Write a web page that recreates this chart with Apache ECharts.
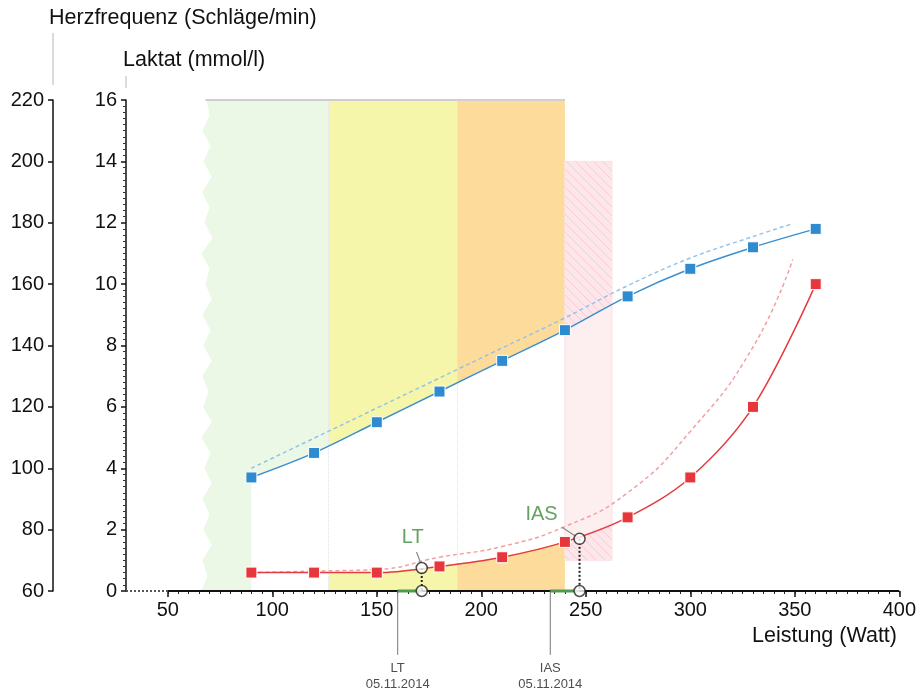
<!DOCTYPE html>
<html>
<head>
<meta charset="utf-8">
<script src="https://cdn.jsdelivr.net/npm/echarts@6/dist/echarts.min.js"></script>
<style>
  html, body { margin: 0; padding: 0; background: #fff; }
  #chart { width: 919px; height: 693px; }
</style>
</head>
<body>
<div id="chart"></div>
<script>
  // Messwerte (Stufentest)
  var watts = [90, 120, 150, 180, 210, 240, 270, 300, 330, 360];
  var heartRate = [97, 105, 115, 125, 135, 145, 156, 165, 172, 178];
  var lactate = [0.6, 0.6, 0.6, 0.8, 1.1, 1.6, 2.4, 3.7, 6.0, 10.0];

  // Vergleichskurven (gestrichelt)
  var prevHrWatts = [90, 120, 150, 180, 210, 240, 270, 300, 330, 348];
  var prevHeartRate = [100, 109.8, 119.6, 129.4, 139.2, 149, 159.5, 168.5, 175.5, 179.5];
  var prevLacWatts = [90, 120, 150, 180, 210, 240, 270, 300, 330, 349];
  var prevLactate = [0.6, 0.65, 0.7, 1.1, 1.45, 2.1, 3.2, 5.2, 7.95, 10.8];

  // Schwellen
  var thresholdNames = ['LT', 'IAS'];
  var thresholdWatts = [171.5, 247];
  var thresholdLactate = [0.75, 1.7];
  var prevThresholdWatts = [160, 233];
  var prevThresholdDates = ['05.11.2014', '05.11.2014'];

  // Trainingsbereiche (Watt)
  var zoneEdges = [68, 127, 188.5, 240];
  var iasZone = [240, 262.5, 1, 14];   // von, bis, Laktat unten, oben
  var greenEdge = [68.5, 70, 66.5, 70.5, 67, 71, 66.5, 70, 67.5, 71.5, 66, 70, 68, 71, 66.5, 70.5,
                   67, 71, 66.5, 69.5, 67, 71, 66, 70.5, 67.5, 71, 66.5, 70, 67, 71, 66.5, 69, 66];

  var xTickLabels = [50, 100, 150, 200, 250, 300, 350, 400];

  var zoneColors = ['#ecf8e6', '#f6f6aa', '#fddc9b'];
  var FONT = '"Liberation Sans", Arial, sans-serif';

  var hrMin = 60, hrMax = 220, lacMin = 0, lacMax = 16;
  function hrToLac(hr) { return lacMin + (hr - hrMin) * (lacMax - lacMin) / (hrMax - hrMin); }
  function pairs(xs, ys) { return xs.map(function (x, i) { return [x, ys[i]]; }); }
  var hrAsLac = heartRate.map(hrToLac);

  // Kurvenverlauf zwischen zwei Wattwerten (für die Bereichsränder)
  function valueAt(xs, ys, x) {
    for (var i = 0; i < xs.length - 1; i++) {
      if (x <= xs[i + 1]) return ys[i] + (x - xs[i]) / (xs[i + 1] - xs[i]) * (ys[i + 1] - ys[i]);
    }
    return ys[ys.length - 1];
  }
  function curve(xs, ys, x0, x1) {
    var out = [[x0, valueAt(xs, ys, x0)]];
    xs.forEach(function (x, i) { if (x > x0 && x < x1) out.push([x, ys[i]]); });
    out.push([x1, valueAt(xs, ys, x1)]);
    return out;
  }

  var minorXTicks = [];
  for (var t = 50; t <= 400; t += 5) minorXTicks.push(t);

  // Schraffur für IAS-Bereich
  var hatch = document.createElement('canvas');
  hatch.width = 9; hatch.height = 9;
  var hctx = hatch.getContext('2d');
  hctx.fillStyle = '#fde6e9';
  hctx.fillRect(0, 0, 9, 9);
  hctx.strokeStyle = '#f8cbd0';
  hctx.lineWidth = 1;
  [-9, 0, 9].forEach(function (o) {
    hctx.beginPath(); hctx.moveTo(o, 0); hctx.lineTo(o + 9, 9); hctx.stroke();
  });

  var chart = echarts.init(document.getElementById('chart'));

  var series = [];

  // Bereiche: oberhalb der Herzfrequenzkurve und unterhalb der Laktatkurve
  series.push({
    type: 'custom', silent: true, z: 1,
    data: [[watts[0], lactate[0]]],
    renderItem: function (params, api) {
      function poly(list, style) {
        return { type: 'polygon', shape: { points: list.map(function (p) { return api.coord(p); }) }, style: style };
      }
      function above(x0, x1, top) {
        return [[x0, top], [x1, top]].concat(curve(watts, hrAsLac, x0, x1).reverse());
      }
      function below(x0, x1, bottom) {
        return curve(watts, lactate, x0, x1).concat([[x1, bottom], [x0, bottom]]);
      }
      var children = [];

      // grün, mit gezacktem linken Rand
      var g = [[zoneEdges[1], lacMax]].concat(curve(watts, hrAsLac, watts[0], zoneEdges[1]).reverse());
      g.push([watts[0], lacMin]);
      for (var k = greenEdge.length - 1; k >= 0; k--) {
        g.push([greenEdge[k], lacMax - k * (lacMax - lacMin) / (greenEdge.length - 1)]);
      }
      children.push(poly(g, { fill: zoneColors[0] }));

      // gelb, orange
      for (var z = 1; z <= 2; z++) {
        children.push(poly(above(zoneEdges[z], zoneEdges[z + 1], lacMax), { fill: zoneColors[z] }));
        children.push(poly(below(zoneEdges[z], zoneEdges[z + 1], lacMin), { fill: zoneColors[z] }));
      }

      // IAS-Bereich: Tönung + Schraffur außerhalb der Kurven
      var a = api.coord([iasZone[0], iasZone[3]]), b = api.coord([iasZone[1], iasZone[2]]);
      children.push({ type: 'rect', shape: { x: a[0], y: a[1], width: b[0] - a[0], height: b[1] - a[1] },
                      style: { fill: '#fdeef0', stroke: '#f9dfe2', lineWidth: 1 } });
      var pat = { image: hatch, repeat: 'repeat' };
      children.push(poly(above(iasZone[0], iasZone[1], iasZone[3]), { fill: pat }));
      children.push(poly(below(iasZone[0], iasZone[1], iasZone[2]), { fill: pat }));
      return { type: 'group', children: children };
    }
  });

  // Bereichsgrenzen
  series.push({
    type: 'line', data: [], silent: true, z: 5,
    markLine: {
      silent: true, symbol: 'none', label: { show: false },
      lineStyle: { type: 'dotted', color: '#e2e2e2', width: 1 },
      data: [{ xAxis: zoneEdges[1] }, { xAxis: zoneEdges[2] }]
    }
  });

  // obere Kante der Bereiche
  series.push({
    type: 'line', clip: false, symbol: 'none', silent: true, z: 5,
    data: [[zoneEdges[0], lacMax], [zoneEdges[3], lacMax]],
    lineStyle: { color: '#cfcfcf', width: 2 }
  });

  // x-Achsenlinie
  series.push({
    type: 'line', clip: false, symbol: 'none', silent: true, z: 6,
    data: [[30, 0], [50, 0]],
    lineStyle: { color: '#555', width: 2, type: 'dotted' }
  });
  series.push({
    type: 'line', clip: false, symbol: 'none', silent: true, z: 6,
    data: [[50, 0], [400, 0]],
    lineStyle: { color: '#111', width: 2 }
  });

  // Vergleichskurven
  series.push({
    type: 'line', yAxisIndex: 1, symbol: 'none', smooth: 0.4, silent: true, z: 7,
    data: pairs(prevHrWatts, prevHeartRate),
    lineStyle: { color: '#94c2e8', width: 1.5, type: [4, 3] }
  });
  series.push({
    type: 'line', yAxisIndex: 0, symbol: 'none', smooth: 0.5, silent: true, z: 7,
    data: pairs(prevLacWatts, prevLactate),
    lineStyle: { color: '#f2a0a4', width: 1.5, type: [4, 3] }
  });

  // Messkurven
  series.push({
    type: 'line', yAxisIndex: 1, smooth: 0.35, symbol: 'rect', symbolSize: 11, z: 8,
    data: pairs(watts, heartRate),
    lineStyle: { color: '#3a8fd1', width: 1.5 },
    itemStyle: { color: '#2f8bd0', borderColor: '#fff', borderWidth: 1 }
  });
  series.push({
    type: 'line', yAxisIndex: 0, smooth: 0.35, symbol: 'rect', symbolSize: 11, z: 8,
    data: pairs(watts, lactate),
    lineStyle: { color: '#e53a3f', width: 1.5 },
    itemStyle: { color: '#e8373c', borderColor: '#fff', borderWidth: 1 }
  });

  // Schwellen
  var labelOffsets = [[-9, -9], [-38, -3]];
  var leaderFrom = [[-2.5, 0.52], [-8.4, 0.38]];
  var leaderTo = [[-0.5, 0.16], [-1.3, 0.06]];
  thresholdNames.forEach(function (name, i) {
    var w = thresholdWatts[i], lac = thresholdLactate[i], pw = prevThresholdWatts[i];
    series.push({
      type: 'line', clip: false, symbol: 'none', silent: true, z: 9,
      data: [[pw, 0], [w, 0]],
      lineStyle: { color: '#4f9a4f', width: 3 }
    });
    series.push({
      type: 'line', symbol: 'none', silent: true, z: 9,
      data: [[w, lac], [w, 0]],
      lineStyle: { color: '#222', width: 2, type: [2, 2] }
    });
    series.push({
      type: 'line', symbol: 'none', silent: true, z: 9,
      data: [[w + leaderFrom[i][0], lac + leaderFrom[i][1]], [w + leaderTo[i][0], lac + leaderTo[i][1]]],
      lineStyle: { color: '#888', width: 1.2 }
    });
    series.push({
      type: 'line', clip: false, symbol: 'none', silent: true, z: 9,
      data: [[pw, 0], [pw, -2.08]],
      lineStyle: { color: '#777', width: 1 }
    });
    series.push({
      type: 'scatter', clip: false, symbol: 'circle', symbolSize: 1, silent: true, z: 9,
      itemStyle: { color: 'rgba(0,0,0,0)' },
      data: [[pw, -2.08]],
      label: {
        show: true, position: 'bottom', distance: 5,
        formatter: name + '\n' + prevThresholdDates[i],
        fontSize: 13, lineHeight: 16, color: '#222', fontFamily: FONT
      }
    });
    series.push({
      type: 'scatter', clip: false, symbol: 'circle', symbolSize: 11, silent: true, z: 10,
      itemStyle: { color: '#fff', borderColor: '#222', borderWidth: 1.5 },
      data: [
        { value: [w, lac], label: {
          show: true, position: 'top', distance: 5, offset: labelOffsets[i],
          formatter: name, fontSize: 20, color: '#3d8b3d', fontFamily: FONT } },
        { value: [w, 0] }
      ]
    });
  });

  var option = {
    animation: false,
    grid: { left: 126, right: 17, top: 100, bottom: 102, containLabel: false },
    xAxis: [
      {
        type: 'value', min: 30, max: 400,
        axisLine: { show: false }, splitLine: { show: false },
        axisTick: { show: true, customValues: xTickLabels, length: 6, lineStyle: { color: '#111', width: 1.5 } },
        axisLabel: { customValues: xTickLabels, fontSize: 20, color: '#111', margin: 9, fontFamily: FONT }
      },
      {
        type: 'value', min: 30, max: 400, position: 'bottom',
        axisLine: { show: false }, splitLine: { show: false },
        axisTick: { show: true, customValues: minorXTicks, length: 3, lineStyle: { color: '#222', width: 1 } },
        axisLabel: { show: false }
      }
    ],
    yAxis: [
      {
        type: 'value', min: lacMin, max: lacMax, interval: 2, position: 'left', offset: 0,
        name: 'Laktat (mmol/l)', nameLocation: 'end', nameGap: 29,
        nameTextStyle: { align: 'left', fontSize: 21.5, color: '#111', fontFamily: FONT, padding: [0, 0, 0, -3] },
        axisLine: { show: true, lineStyle: { color: '#111', width: 1.5 } },
        axisTick: { show: true, length: 5, lineStyle: { color: '#111', width: 1.5 } },
        minorTick: { show: true, splitNumber: 10, length: 3, lineStyle: { color: '#333', width: 1 } },
        axisLabel: { fontSize: 20, color: '#111', margin: 9, fontFamily: FONT },
        splitLine: { show: false }
      },
      {
        type: 'value', min: hrMin, max: hrMax, interval: 20, position: 'left', offset: 73,
        name: 'Herzfrequenz (Schläge/min)', nameLocation: 'end', nameGap: 71,
        nameTextStyle: { align: 'left', fontSize: 21.5, color: '#111', fontFamily: FONT, padding: [0, 0, 0, -4] },
        axisLine: { show: true, lineStyle: { color: '#111', width: 1.5 } },
        axisTick: { show: true, length: 5, lineStyle: { color: '#111', width: 1.5 } },
        axisLabel: { fontSize: 20, color: '#111', margin: 9, fontFamily: FONT },
        splitLine: { show: false }
      }
    ],
    graphic: [
      { type: 'line', silent: true, shape: { x1: 53, y1: 33, x2: 53, y2: 85 }, style: { stroke: '#cfcfcf', lineWidth: 1.5 } },
      { type: 'line', silent: true, shape: { x1: 126, y1: 76, x2: 126, y2: 88 }, style: { stroke: '#cfcfcf', lineWidth: 1.5 } },
      { type: 'text', silent: true, right: 22, top: 625,
        style: { text: 'Leistung (Watt)', fill: '#111', font: '21.5px ' + FONT } }
    ],
    series: series
  };

  chart.setOption(option);
</script>
</body>
</html>
